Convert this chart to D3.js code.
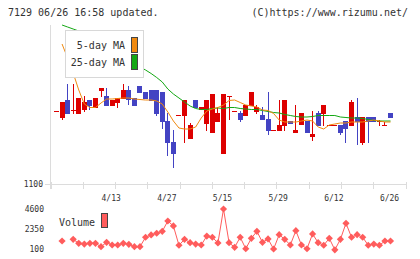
<!DOCTYPE html>
<html>
<head>
<meta charset="utf-8">
<script src="https://cdn.jsdelivr.net/npm/d3@7"></script>
<style>
  body { margin: 0; background: #fff; }
  svg text { font-family: "DejaVu Sans Mono", monospace; fill: #333; }
</style>
</head>
<body>
<div id="chart"></div>
<script>
// trading days shown (3/30 .. 6/26)
const dates = ["3/30","3/31","4/1","4/2","4/3","4/6","4/7","4/8","4/9","4/10",
  "4/13","4/14","4/15","4/16","4/17","4/20","4/21","4/22","4/23","4/24",
  "4/27","4/28","4/30","5/1","5/7","5/8","5/11","5/12","5/13","5/14",
  "5/15","5/18","5/19","5/20","5/21","5/22","5/25","5/26","5/27","5/28",
  "5/29","6/1","6/2","6/3","6/4","6/5","6/8","6/9","6/10","6/11",
  "6/12","6/15","6/16","6/17","6/18","6/19","6/22","6/23","6/24","6/25","6/26"];

const open  = [1246,1232,1268,1249,1241,1248,1268,1253,1286,1276,
  1256,1263,1271,1288,1272,1296,1284,1288,1288,1284,
  1226,1184,1238,1236,1190,1268,1248,1220,1202,1224,
  1160,1276,1246,1242,1236,1256,1244,1238,1230,1208,
  1206,1216,1226,1202,1218,1226,1194,1242,1240,1218,
  1218,1218,1226,1216,1234,1182,1234,1234,1226,1218,1242];
const close = [1246,1264,1241,1249,1272,1264,1256,1272,1292,1256,
  1268,1272,1288,1267,1256,1282,1270,1266,1240,1224,
  1182,1160,1238,1268,1218,1252,1254,1268,1280,1242,
  1280,1276,1246,1228,1258,1284,1254,1228,1206,1208,
  1218,1268,1220,1208,1242,1202,1200,1216,1258,1218,
  1218,1202,1210,1264,1224,1234,1224,1224,1226,1218,1232];
const high  = [1246,1264,1300,1300,1272,1277,1268,1272,1292,1292,
  1268,1272,1300,1296,1272,1296,1284,1288,1288,1284,
  1242,1208,1238,1268,1222,1268,1254,1268,1280,1254,
  1280,1276,1246,1246,1258,1284,1258,1254,1284,1208,
  1268,1268,1226,1258,1242,1226,1246,1246,1258,1218,
  1218,1218,1226,1268,1272,1234,1234,1234,1228,1224,1242];
const low   = [1246,1229,1241,1241,1241,1244,1248,1253,1275,1256,
  1256,1253,1271,1258,1256,1282,1270,1266,1236,1210,
  1156,1132,1238,1182,1190,1252,1248,1206,1202,1224,
  1160,1228,1246,1224,1236,1256,1240,1228,1198,1208,
  1206,1206,1220,1202,1218,1202,1186,1216,1216,1218,
  1218,1198,1182,1216,1178,1178,1182,1224,1216,1216,1232];

const ma5  = [null,1380,1352,1322,1288,1260,1253,1253,1262,1270,
  1270,1271,1272,1272,1270,1269,1268,1268,1266,1260,
  1244,1226,1212,1210,1210,1214,1232,1246,1250,1253,
  1258,1267,1268,1263,1258,1256,1254,1248,1247,1241,
  1228,1224,1224,1224,1226,1228,1226,1214,1210,1218,
  1220,1222,1222,1224,1224,1224,1226,1228,1226,1224,1224];
const ma25 = [null,1418,1414,1410,1406,1400,1394,1388,1382,1376,
  1368,1360,1352,1346,1340,1334,1328,1321,1313,1304,
  1290,1280,1272,1264,1256,1251,1249,1249,1251,1252,
  1251,1253,1253,1251,1250,1249,1249,1247,1245,1243,
  1242,1239,1237,1235,1234,1234,1235,1237,1237,1237,
  1237,1234,1233,1232,1232,1231,1229,1227,1226,1226,1226];

const volume = [null,1000,null,1190,740,660,740,740,360,850,
  550,550,740,630,360,360,1420,1680,1870,2090,
  3250,2690,520,1190,810,660,550,1560,1420,780,
  4600,810,290,1420,130,1300,2090,850,1230,100,
  1710,1190,550,2160,550,130,1790,810,520,1300,
  10,1190,2990,1420,1710,1420,520,660,520,1000,1000];

const dateTicks = ["4/13","4/27","5/15","5/29","6/12","6/26"];
const priceTicks = [1100];
const volumeTicks = [4600, 2350, 100];

const RED = "#dd0000", BLUE = "#4343c3", ORANGE = "#f08a10", GREEN = "#13a813", VOL = "#ff5c5c";

const svg = d3.select("#chart").append("svg")
  .attr("width", 420).attr("height", 259);

const x = d3.scaleBand().domain(dates).range([53.7, 393.3]);
const cx = d => x(d) + x.bandwidth() / 2;
const y = d3.scaleLinear().domain([1100, 1430]).range([184, 19]);
const yv = d3.scaleLinear().domain([100, 4600]).range([249, 209]);

// header
svg.append("text").attr("x", 8).attr("y", 16).style("font-size", "10px")
  .text("7129 06/26 16:58 updated.");
svg.append("text").attr("x", 408).attr("y", 16).attr("text-anchor", "end")
  .style("font-size", "10px").text("(C)https://www.rizumu.net/");

// axes frame
const axisCol = "#dcdcdc";
svg.append("line").attr("x1", 50.5).attr("x2", 50.5).attr("y1", 25).attr("y2", 189)
  .attr("stroke", axisCol);
svg.append("line").attr("x1", 50).attr("x2", 406).attr("y1", 184.5).attr("y2", 184.5)
  .attr("stroke", axisCol);
const tickX = d3.scaleLinear().domain([0, 11]).range([50.5, 405.5]);
svg.selectAll(".xt").data(d3.range(12)).enter().append("line")
  .attr("x1", d => Math.round(tickX(d)) + 0.5).attr("x2", d => Math.round(tickX(d)) + 0.5)
  .attr("y1", 182).attr("y2", 189).attr("stroke", axisCol);

const yAxis = svg.append("g").attr("transform", "translate(50,0)")
  .call(d3.axisLeft(y).tickValues(priceTicks).tickFormat(d3.format("d"))
    .tickSize(5).tickSizeOuter(0));
yAxis.select(".domain").remove();
yAxis.selectAll("line").attr("stroke", axisCol);
yAxis.selectAll("text").attr("x", -7).style("font-size", "8px").style("font-family", null).attr("fill", null);

svg.selectAll(".xl").data(dateTicks).enter().append("text")
  .attr("x", d => cx(d) - 1).attr("y", 201).attr("text-anchor", "middle")
  .style("font-size", "8px").text(d => d);

// candles
const idx = d3.range(dates.length);
const cg = svg.append("g").attr("shape-rendering", "crispEdges");
idx.forEach(i => {
  const col = close[i] >= open[i] ? RED : BLUE;
  const bx = Math.round(cx(dates[i]) - 2.5);
  if (high[i] !== low[i]) {
    cg.append("line").attr("x1", bx + 2.5).attr("x2", bx + 2.5)
      .attr("y1", Math.round(y(high[i]))).attr("y2", Math.round(y(low[i])))
      .attr("stroke", col);
  }
  const top = Math.round(y(Math.max(open[i], close[i])));
  const bot = Math.round(y(Math.min(open[i], close[i])));
  cg.append("rect").attr("x", bx).attr("y", top)
    .attr("width", 5).attr("height", Math.max(1, bot - top)).attr("fill", col);
});

// moving averages
const maLine = d3.line().defined(d => d != null)
  .x((d, i) => cx(dates[i])).y(d => y(d));
svg.append("path").datum(ma25).attr("d", maLine)
  .attr("fill", "none").attr("stroke", GREEN).attr("stroke-width", 1);
svg.append("path").datum(ma5).attr("d", maLine)
  .attr("fill", "none").attr("stroke", ORANGE).attr("stroke-width", 1);

// legend
const lg = svg.append("g").attr("shape-rendering", "crispEdges");
lg.append("rect").attr("x", 65.5).attr("y", 30.5).attr("width", 78).attr("height", 47)
  .attr("fill", "#fff").attr("stroke", "#d8d8d8");
[["5-day MA", ORANGE, 37.5], ["25-day MA", GREEN, 54.5]].forEach(([t, c, yy]) => {
  lg.append("text").attr("x", 125).attr("y", yy + 11).attr("text-anchor", "end")
    .style("font-size", "10px").text(t);
  lg.append("rect").attr("x", 131.5).attr("y", yy).attr("width", 6).attr("height", 15)
    .attr("fill", c).attr("stroke", "#444");
});

// volume
svg.selectAll(".vl").data(volumeTicks).enter().append("text")
  .attr("x", 44).attr("y", d => yv(d) + 3).attr("text-anchor", "end")
  .style("font-size", "8px").text(d => d);

const vLine = d3.line().defined(d => d != null)
  .x((d, i) => cx(dates[i])).y(d => yv(Math.max(d, 0)));
svg.append("path").datum(volume).attr("d", vLine)
  .attr("fill", "none").attr("stroke", VOL).attr("stroke-width", 1);
svg.selectAll(".vm").data(idx.filter(i => volume[i] != null)).enter().append("path")
  .attr("d", d3.symbol(d3.symbolSquare, 26))
  .attr("transform", i => `translate(${cx(dates[i])},${yv(volume[i])}) rotate(45)`)
  .attr("fill", VOL);

svg.append("text").attr("x", 59).attr("y", 226).style("font-size", "10px").text("Volume");
svg.append("rect").attr("x", 101.5).attr("y", 213.5).attr("width", 6).attr("height", 14)
  .attr("fill", VOL).attr("stroke", "#444").attr("shape-rendering", "crispEdges");
</script>
</body>
</html>
